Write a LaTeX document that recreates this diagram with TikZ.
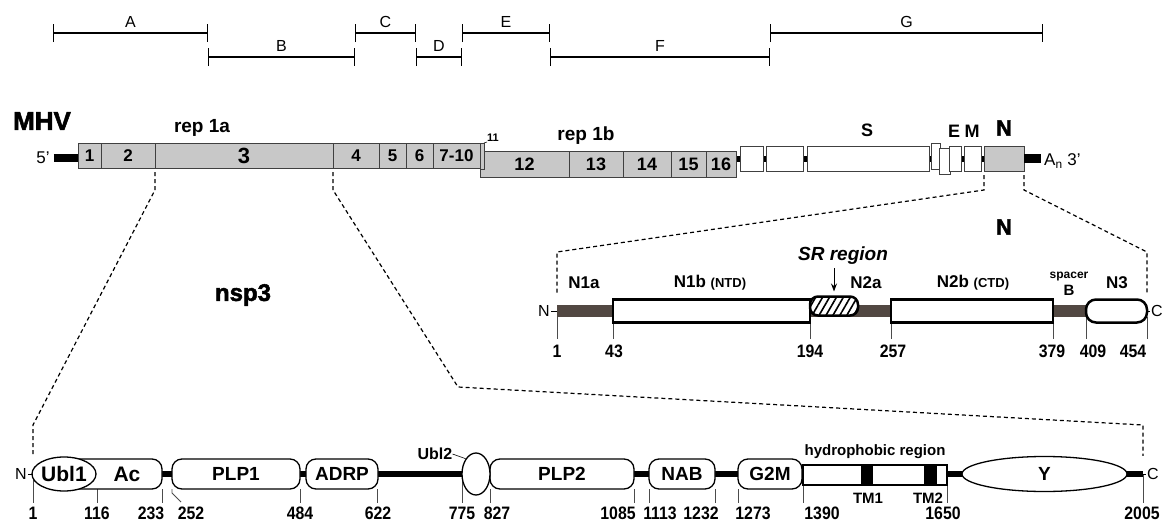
\documentclass[tikz,border=0pt]{standalone}
\usepackage{fontspec}
\setmainfont{Liberation Sans}
\newfontface\heavyfont[FakeBold=2]{Liberation Sans Bold}
\newfontface\narrowfont[FakeStretch=0.88]{Liberation Sans Bold}
\usetikzlibrary{arrows.meta,positioning,shapes.geometric,backgrounds,patterns.meta}
\definecolor{repgray}{RGB}{200,200,200}
\definecolor{nbrown}{RGB}{82,72,66}
\newcommand{\fsz}[1]{\fontsize{#1}{#1}\selectfont}

\begin{document}
\begin{tikzpicture}[x=1pt,y=-1pt,
    scalebar/.style={line width=1.2pt,arrows={Bar[width=18pt]-Bar[width=18pt]}},
    barlab/.style={font=\fsz{16},inner sep=1pt},
    gbox/.style={draw=black!75,line width=0.9pt,inner sep=0pt,outer sep=0pt,minimum height=25pt,anchor=west},
    repbox/.style={gbox,fill=repgray,font=\bfseries\fsz{17}},
    genebox/.style={gbox,fill=white},
    link/.style={line width=6pt},
    zoomline/.style={line width=1.2pt,dash pattern=on 4pt off 3pt},
    dom/.style={draw,line width=1.3pt,fill=white,rounded corners=10pt,inner sep=0pt,outer sep=0pt,minimum height=30pt,anchor=west,font=\bfseries\fsz{19}},
    ndom/.style={draw,line width=2.5pt,fill=white,inner sep=0pt,outer sep=0pt,minimum height=23pt,anchor=west},
    blob/.style={draw,ellipse,line width=1.3pt,fill=white,inner sep=0pt},
    poslab/.style={font=\narrowfont\fsz{18},inner sep=0pt},
    numtick/.style={black!70,line width=0.8pt},
    lab/.style={font=\bfseries\fsz{17},inner sep=0pt},
    term/.style={font=\fsz{16},inner sep=1pt}
  ]
  \useasboundingbox (0,0) rectangle (1163,522);

  % fragments
  \foreach \l/\a/\b/\y in {A/53/208/33,B/208/355/57,C/355/416/33,D/416/462/57,E/462/550/33,F/550/770/57,G/770/1043/33}
    \draw[scalebar] (\a,\y) -- node[barlab,above=4pt] (bar\l) {\l} (\b,\y);

  % genome
  \node[font=\heavyfont\fsz{26}] (mhv) at (42,121) {MHV};
  \node[repbox,minimum width=23pt] (nsp1) at (78,155.5) {1};
  \node[repbox,minimum width=54pt] (nsp2) at (101,155.5) {2};
  \node[repbox,minimum width=178pt,font=\bfseries\fsz{22}] (nsp3) at (155,155.5) {3};
  \node[repbox,minimum width=46pt] (nsp4) at (333,155.5) {4};
  \node[repbox,minimum width=27pt] (nsp5) at (379,155.5) {5};
  \node[repbox,minimum width=27pt] (nsp6) at (406,155.5) {6};
  \node[repbox,minimum width=47pt] (nsp7) at (433,155.5) {7-10};
  \node[repbox,minimum width=89pt,minimum height=26pt,font=\bfseries\fsz{18}] (nsp12) at (480,164) {12};
  \node[repbox,minimum width=54pt,minimum height=26pt,font=\bfseries\fsz{18}] (nsp13) at (569,164) {13};
  \node[repbox,minimum width=48pt,minimum height=26pt,font=\bfseries\fsz{18}] (nsp14) at (623,164) {14};
  \node[repbox,minimum width=35pt,minimum height=26pt,font=\bfseries\fsz{18}] (nsp15) at (671,164) {15};
  \node[repbox,minimum width=30pt,minimum height=26pt,font=\bfseries\fsz{18}] (nsp16) at (706,164) {16};
  \node[repbox,minimum width=4pt,minimum height=26pt] (nsp11) at (480,156) {};
  \node[font=\bfseries\fsz{11},anchor=south west,inner sep=0pt] (lab11) at (487,142) {11};
  \draw[line width=0.6pt] (nsp11.north east) -- (lab11.south west);
  \node[font=\bfseries\fsz{19}] (rep1a) at (202,128) {rep 1a};
  \node[font=\bfseries\fsz{19}] (rep1b) at (586,136) {rep 1b};

  \node[genebox,minimum width=23pt] (orf2) at (740,158.5) {};
  \node[genebox,minimum width=37pt] (orfhe) at (766,158.5) {};
  \node[genebox,minimum width=122pt] (geneS) at (807,158.5) {};
  \node[genebox,minimum width=9pt,minimum height=26pt] (orf4) at (931,156) {};
  \node[genebox,minimum width=11pt,minimum height=26pt] (orf5) at (939,161) {};
  \node[genebox,minimum width=12pt] (geneE) at (949,158.5) {};
  \node[genebox,minimum width=17pt] (geneM) at (964,158.5) {};
  \node[genebox,fill=repgray,minimum width=40pt] (geneN) at (984,158.5) {};
  \node[font=\bfseries\fsz{18}] (labS) at (867,130) {S};
  \node[font=\bfseries\fsz{18}] (labE) at (954,131) {E};
  \node[font=\bfseries\fsz{18}] (labM) at (972,131) {M};
  \node[font=\heavyfont\fsz{22}] (labN) at (1004,128) {N};

  \node[term,font=\fsz{17},inner sep=0pt] (five) at (43,158) {5'};
  \draw[line width=8pt] ([xshift=4pt]five.east) -- (five.east -| nsp1.west);
  \node[term,font=\fsz{17},anchor=west] (polyA) at (1043,161) {A\textsubscript{n} 3'};
  \draw[line width=9pt] (geneN.east) -- ([xshift=-2pt]geneN.east -| polyA.west);
  \begin{scope}[on background layer]
    \draw[link] (nsp16.east |- geneN.west) -- (geneN.west);
  \end{scope}

  % zoom lines
  \coordinate (zl1) at (33,425);
  \coordinate (zl2) at (458,387);
  \coordinate (zl3) at (1143,425);
  \coordinate (nzl) at (557,252);
  \coordinate (nzr) at (1147,252);
  \draw[zoomline] ([yshift=-4pt]geneN.south west) -- ++(0,15) -- (nzl) -- ++(0,41);
  \draw[zoomline] ([yshift=-4pt]geneN.south east) -- ++(0,15) -- (nzr) -- ++(0,41);

  % N protein
  \node[font=\heavyfont\fsz{22}] (labNprot) at (1004,227) {N};
  \coordinate (nstart) at (557,311);
  \coordinate (nend) at (1147,311);
  \foreach \x/\lx/\t/\top in {557/557/1/317,613/614/43/322,810/810/194/322,891/893/257/322,1053/1052/379/322,1086/1093/409/317,1147/1133/454/317}{
    \draw[numtick] (\x,\top) -- (\x,339);
    \node[poslab] (npos\t) at (\lx,351) {\t};
  }
  \draw[nbrown,line width=12pt] (nstart) -- (nend);
  \node[ndom,minimum width=197pt] (n1b) at (613,311) {};
  \node[ndom,minimum width=48pt,minimum height=19pt,rounded corners=8pt,preaction={fill=white},
        pattern={Lines[angle=60,distance=6pt,line width=1.6pt]}] (srbox) at (810,306) {};
  \node[ndom,minimum width=162pt] (n2b) at (891,311) {};
  \node[ndom,minimum width=61pt,rounded corners=10pt] (n3) at (1086,311) {};
  \node[term,anchor=east] (nrowN) at (551,311) {N};
  \draw[line width=0.6pt] (nrowN.east) -- (nstart);
  \node[term,anchor=west] (nrowC) at (1150,311) {C};
  \draw[line width=0.6pt] (nend) -- (nrowC.west);
  \node[lab] (labN1a) at (584,283) {N1a};
  \node[lab] (labN1b) at (710,283) {N1b {\fsz{13}(NTD)}};
  \node[lab] (labN2a) at (866,283) {N2a};
  \node[lab] (labN2b) at (973,283) {N2b {\fsz{13}(CTD)}};
  \node[lab,font=\bfseries\fsz{12}] (labspacer) at (1069,277) {spacer};
  \node[lab,font=\bfseries\fsz{15}] (labB) at (1069,290) {B};
  \node[lab] (labN3) at (1117,283) {N3};
  \node[font=\bfseries\itshape\fsz{19}] (labSR) at (843,256) {SR region};
  \draw[-{Stealth[length=8pt,width=6pt]},line width=1pt] (labSR.south -| srbox.north) -- ([yshift=5pt]srbox.north);

  % nsp3
  \node[font=\heavyfont\fsz{24}] (labnsp3) at (243,295) {nsp3};
  \coordinate (pstart) at (33,474);
  \coordinate (pend) at (1143,474);
  \foreach \x/\lx/\t/\top in {33/33/1/474,97/97/116/489,162/151/233/489,300/300/484/489,377/378/622/489,462/462/775/474,490/497/827/489,634/618/1085/489,649/660/1113/489,715/701/1232/489,738/753/1273/489,803/822/1390/485,947/943/1650/485,1143/1142/2005/474}{
    \draw[numtick] (\x,\top) -- (\x,503);
    \node[poslab] (ppos\t) at (\lx,513) {\t};
  }
  \draw[numtick] (172,489) -- (172,493) -- (181,502);
  \node[poslab] (ppos252) at (191,513) {252};
  \draw[line width=6.5pt] (pstart) -- (pend);
  \node[dom,minimum width=98pt] (ac) at (64,474) {};
  \node[blob,minimum width=64pt,minimum height=34pt] (ubl1) at (64,474) {};
  \node[font=\bfseries\fsz{21}] (ubl1lab) at (64,474) {Ubl1};
  \node[font=\bfseries\fsz{21}] (aclab) at (127,474) {Ac};
  \node[dom,minimum width=128pt] (plp1) at (172,474) {PLP1};
  \node[dom,minimum width=72pt] (adrp) at (306,474) {ADRP};
  \node[dom,minimum width=144pt] (plp2) at (490,474) {PLP2};
  \node[blob,minimum width=28pt,minimum height=42pt] (ubl2) at (476,474) {};
  \node[font=\bfseries\fsz{16},inner sep=0pt] (ubl2lab) at (435,454) {Ubl2};
  \draw[line width=0.6pt] (ubl2lab.east) -- (ubl2.north west);
  \node[dom,minimum width=66pt] (nab) at (649,474) {NAB};
  \node[dom,minimum width=64pt] (g2m) at (738,474) {G2M};
  \node[draw,line width=2.5pt,fill=white,minimum width=144pt,minimum height=20pt,inner sep=0pt,outer sep=0pt,anchor=west] (hydro) at (803,475) {};
  \node[fill=black,minimum width=12pt,minimum height=20pt,inner sep=0pt,anchor=west] (tm1) at (861,475) {};
  \node[fill=black,minimum width=13pt,minimum height=20pt,inner sep=0pt,anchor=west] (tm2) at (924,475) {};
  \node[font=\bfseries\fsz{15}] (labhydro) at (875,452) {hydrophobic region};
  \node[font=\bfseries\fsz{15}] (labtm1) at (868,498) {TM1};
  \node[font=\bfseries\fsz{15}] (labtm2) at (928,498) {TM2};
  \node[blob,minimum width=165pt,minimum height=35pt,font=\bfseries\fsz{19}] (yell) at (1044.5,474) {Y};
  \node[term,anchor=east] (pN) at (28,474) {N};
  \draw[line width=0.6pt] (pN.east) -- (pstart);
  \node[term,anchor=west] (pC) at (1146,474) {C};
  \draw[line width=0.6pt] (pend) -- (pC.west);
  \draw[zoomline] ([yshift=-4pt]nsp3.south west) -- ++(0,18) -- (zl1) -- (zl1 |- ubl1.north);
  \draw[zoomline] ([yshift=-4pt]nsp4.south west) -- ++(0,18) -- (zl2) -- (zl3) -- (zl3 |- yell.north);
\end{tikzpicture}
\end{document}
